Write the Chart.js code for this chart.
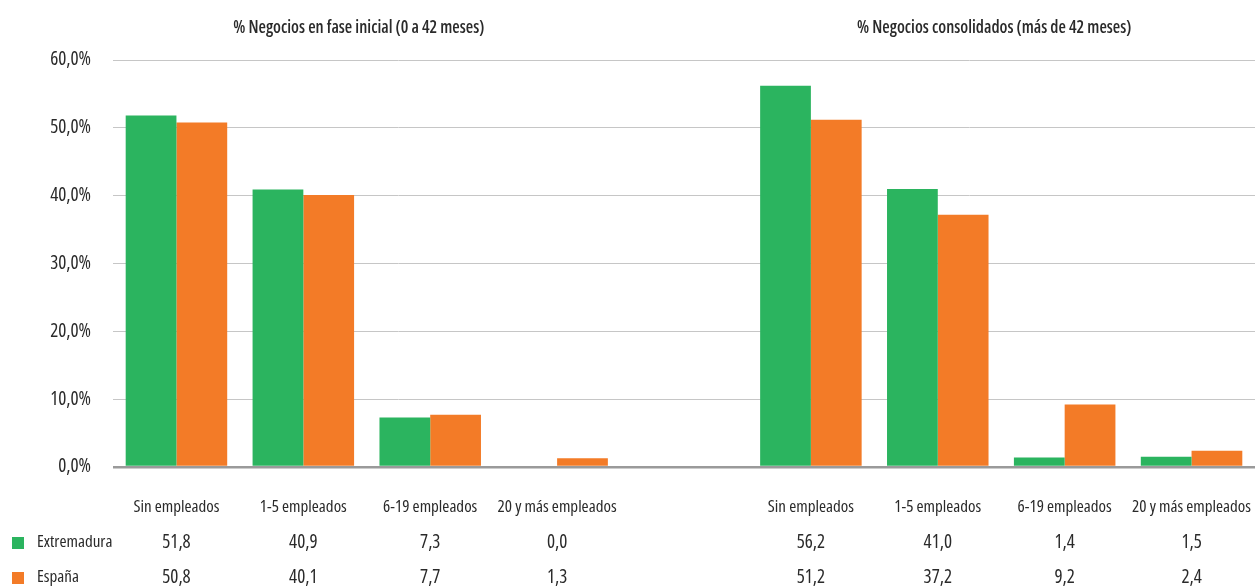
<!DOCTYPE html>
<html>
<head>
<meta charset="utf-8" />
<title>Negocios por número de empleados</title>
<style>
  html, body { margin: 0; padding: 0; background: #fff; }
  #wrap { width: 1255px; height: 587px; position: relative; }
</style>
</head>
<body>
<div id="wrap"><canvas id="chart"></canvas></div>
<script src="https://cdn.jsdelivr.net/npm/chart.js"></script>
<script>
// data
const categories = ["Sin empleados", "1-5 empleados", "6-19 empleados", "20 y más empleados"];
const groupTitles = ["% Negocios en fase inicial (0 a 42 meses)", "% Negocios consolidados (más de 42 meses)"];
const seriesNames = ["Extremadura", "España"];
const extremaduraInicial = [51.8, 40.9, 7.3, 0.0];
const espanaInicial = [50.8, 40.1, 7.7, 1.3];
const extremaduraConsolidado = [56.2, 41.0, 1.4, 1.5];
const espanaConsolidado = [51.2, 37.2, 9.2, 2.4];
const yTicks = [0, 10, 20, 30, 40, 50, 60];

const colors = ["#2bb45f", "#f37b27"];
const FAMILY = "'Open Sans', sans-serif";
const TEXT = "#2a2a2a";

// one empty slot between the two groups
const labels = [...categories, "", ...categories];
const extData = [...extremaduraInicial, null, ...extremaduraConsolidado];
const espData = [...espanaInicial, null, ...espanaConsolidado];

const fmt = v => v.toFixed(1).replace(".", ",");
const cond = (size, weight) => (weight || "normal") + " condensed " + size + "px " + FAMILY;

// group titles, data table and legend
const extras = {
  id: "extras",
  afterDraw(chart) {
    const ctx = chart.ctx;
    const x = chart.scales.x;
    ctx.save();
    ctx.fillStyle = TEXT;
    ctx.textAlign = "center";
    ctx.textBaseline = "middle";

    ctx.font = cond(17, 600);
    const c1 = (x.getPixelForValue(0) + x.getPixelForValue(3)) / 2;
    const c2 = (x.getPixelForValue(5) + x.getPixelForValue(8)) / 2;
    ctx.fillText(groupTitles[0], c1 - 8, 28);
    ctx.fillText(groupTitles[1], c2 - 7, 28);

    const rows = [extData, espData];
    const rowY = [543, 578];
    ctx.font = cond(19);
    rows.forEach((row, r) => {
      row.forEach((v, i) => {
        if (v === null) return;
        ctx.fillText(fmt(v), x.getPixelForValue(i), rowY[r]);
      });
    });

    ctx.textAlign = "left";
    ctx.font = cond(17);
    seriesNames.forEach((name, r) => {
      ctx.fillStyle = colors[r];
      ctx.fillRect(12, rowY[r] - 6, 12, 12);
      ctx.fillStyle = TEXT;
      ctx.fillText(name, 37, rowY[r] - 1);
    });
    ctx.restore();
  }
};

new Chart(document.getElementById("chart"), {
  type: "bar",
  data: {
    labels: labels,
    datasets: [
      { label: seriesNames[0], data: extData, backgroundColor: colors[0] },
      { label: seriesNames[1], data: espData, backgroundColor: colors[1] }
    ]
  },
  options: {
    responsive: true,
    maintainAspectRatio: false,
    animation: false,
    layout: { padding: { top: 60, right: 0, left: 0, bottom: 0 } },
    datasets: { bar: { categoryPercentage: 0.8, barPercentage: 1.0 } },
    plugins: { legend: { display: false }, tooltip: { enabled: false } },
    scales: {
      x: {
        grid: { display: false },
        border: { display: false },
        ticks: {
          color: TEXT,
          font: { family: FAMILY, size: 17, weight: "normal condensed" },
          padding: 22,
          maxRotation: 0,
          autoSkip: false
        },
        afterFit(scale) {
          scale.height = 120;
          scale.paddingLeft = 0;
          scale.paddingRight = 0;
        }
      },
      y: {
        min: 0,
        max: 60,
        afterBuildTicks(scale) { scale.ticks = yTicks.map(v => ({ value: v })); },
        border: { display: false },
        grid: {
          color: c => c.tick.value === 0 ? "#9a9a9a" : "#c6c6c6",
          lineWidth: c => c.tick.value === 0 ? 2.5 : 1,
          drawTicks: false
        },
        ticks: {
          color: TEXT,
          font: { family: FAMILY, size: 19, weight: "normal condensed" },
          padding: 22,
          callback: v => fmt(v) + "%"
        },
        afterFit(scale) { scale.width = 113; }
      }
    }
  },
  plugins: [extras]
});
</script>
</body>
</html>
